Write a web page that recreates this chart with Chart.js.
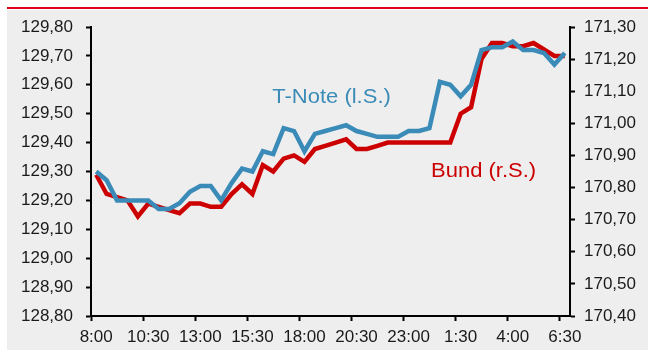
<!DOCTYPE html>
<html>
<head>
<meta charset="utf-8">
<script src="https://cdn.jsdelivr.net/npm/chart.js@4"></script>
<style>
  html, body { margin: 0; padding: 0; background: #fff; }
  #wrap { width: 648px; height: 350px; }
</style>
</head>
<body>
<div id="wrap"><canvas id="myChart" width="648" height="350"></canvas></div>
<script>
const times = [
  "8:00", "8:30", "9:00", "9:30", "10:00", "10:30", "11:00", "11:30", "12:00", "12:30",
  "13:00", "13:30", "14:00", "14:30", "15:00", "15:30", "16:00", "16:30", "17:00", "17:30",
  "18:00", "18:30", "19:00", "19:30", "20:00", "20:30", "21:00", "21:30", "22:00", "22:30",
  "23:00", "23:30", "0:00", "0:30", "1:00", "1:30", "2:00", "2:30", "3:00", "3:30",
  "4:00", "4:30", "5:00", "5:30", "6:00", "6:30"
];

// T-Note, left scale
const tNote = [
  129.30, 129.27, 129.20, 129.20, 129.20, 129.20, 129.17, 129.17, 129.19, 129.23,
  129.25, 129.25, 129.20, 129.26, 129.31, 129.30, 129.37, 129.36, 129.45, 129.44,
  129.37, 129.43, 129.44, 129.45, 129.46, 129.44, 129.43, 129.42, 129.42, 129.42,
  129.44, 129.44, 129.45, 129.61, 129.60, 129.56, 129.60, 129.72, 129.73, 129.73,
  129.75, 129.72, 129.72, 129.71, 129.67, 129.71
];

// Bund, right scale
const bund = [
  170.84, 170.78, 170.77, 170.76, 170.71, 170.75, 170.74, 170.73, 170.72, 170.75,
  170.75, 170.74, 170.74, 170.78, 170.81, 170.78, 170.87, 170.85, 170.89, 170.90,
  170.88, 170.92, 170.93, 170.94, 170.95, 170.92, 170.92, 170.93, 170.94, 170.94,
  170.94, 170.94, 170.94, 170.94, 170.94, 171.03, 171.05, 171.20, 171.25, 171.25,
  171.24, 171.24, 171.25, 171.23, 171.21, 171.21
];

const leftTicks = { min: 128.8, max: 129.8, step: 0.1 };
const rightTicks = { min: 170.4, max: 171.3, step: 0.1 };
const labelEvery = 5;

const blue = "#3b8bb8";
const red = "#cc0000";
const font = "'Liberation Sans', Arial, sans-serif";

const fmt = (v) => v.toFixed(2).replace(".", ",");

const backdrop = {
  id: "backdrop",
  beforeDraw(chart) {
    const ctx = chart.ctx;
    ctx.save();
    ctx.fillStyle = "#ffffff";
    ctx.fillRect(0, 0, chart.width, chart.height);
    ctx.fillStyle = "#eeeeee";
    ctx.fillRect(7, 10, chart.width - 7, chart.height - 10);
    ctx.fillStyle = "#e2001a";
    ctx.fillRect(7, 7, chart.width - 7, 2);
    ctx.restore();
  }
};

// series names, drawn slightly wide like the rest of the lettering
function wideText(ctx, text, x, y, color) {
  ctx.save();
  ctx.translate(x, y);
  ctx.scale(1.1, 1);
  ctx.font = "20px " + font;
  ctx.textAlign = "center";
  ctx.textBaseline = "middle";
  ctx.fillStyle = color;
  ctx.fillText(text, 0, 0);
  ctx.restore();
}

const seriesNames = {
  id: "seriesNames",
  afterDatasetsDraw(chart) {
    const x = chart.scales.x;
    const yl = chart.scales.yLeft;
    const yr = chart.scales.yRight;
    wideText(chart.ctx, "T-Note (l.S.)", x.getPixelForValue(22.6), yl.getPixelForValue(129.555), blue);
    wideText(chart.ctx, "Bund (r.S.)", x.getPixelForValue(37.2), yr.getPixelForValue(170.85), red);
  }
};

const chartCanvas = document.getElementById("myChart");

const myChart = new Chart(chartCanvas, {
  type: "line",
  data: {
    labels: times,
    datasets: [
      {
        label: "T-Note (l.S.)",
        data: tNote,
        yAxisID: "yLeft",
        borderColor: blue,
        borderWidth: 4.5,
        pointRadius: 0,
        tension: 0,
      },
      {
        label: "Bund (r.S.)",
        data: bund,
        yAxisID: "yRight",
        borderColor: red,
        borderWidth: 4.5,
        pointRadius: 0,
        tension: 0,
      },
    ],
  },
  options: {
    responsive: false,
    animation: false,
    layout: { padding: { top: 27, left: 0, right: 0, bottom: 0 } },
    plugins: {
      legend: { display: false },
      tooltip: { enabled: false },
    },
    scales: {
      x: {
        type: "category",
        offset: true,
        afterFit: (s) => { s.height = 34; },
        grid: {
          offset: true,
          drawOnChartArea: false,
          tickLength: 5,
          tickWidth: 2,
          tickColor: (c) => (c.index % labelEvery === 0 ? "#000" : "rgba(0,0,0,0)"),
        },
        border: { display: true, color: "#000", width: 2 },
        ticks: {
          autoSkip: false,
          maxRotation: 0,
          padding: 6,
          color: "#1a1a1a",
          font: { family: font, size: 17 },
          callback: (v, i) => (i % labelEvery === 0 ? times[i] : ""),
        },
      },
      yLeft: {
        type: "linear",
        position: "left",
        min: leftTicks.min,
        max: leftTicks.max,
        afterFit: (s) => { s.width = 91; },
        grid: { drawOnChartArea: false, tickLength: 5, tickWidth: 2, tickColor: "#000" },
        border: { display: true, color: "#000", width: 2 },
        ticks: {
          stepSize: leftTicks.step,
          padding: 13,
          color: "#1a1a1a",
          font: { family: font, size: 17 },
          callback: fmt,
        },
      },
      yRight: {
        type: "linear",
        position: "right",
        min: rightTicks.min,
        max: rightTicks.max,
        afterFit: (s) => { s.width = 78; },
        grid: { drawOnChartArea: false, tickLength: 5, tickWidth: 2, tickColor: "#000" },
        border: { display: true, color: "#000", width: 2 },
        ticks: {
          stepSize: rightTicks.step,
          padding: 9,
          color: "#1a1a1a",
          font: { family: font, size: 17 },
          callback: fmt,
        },
      },
    },
  },
  plugins: [backdrop, seriesNames],
});
</script>
</body>
</html>
